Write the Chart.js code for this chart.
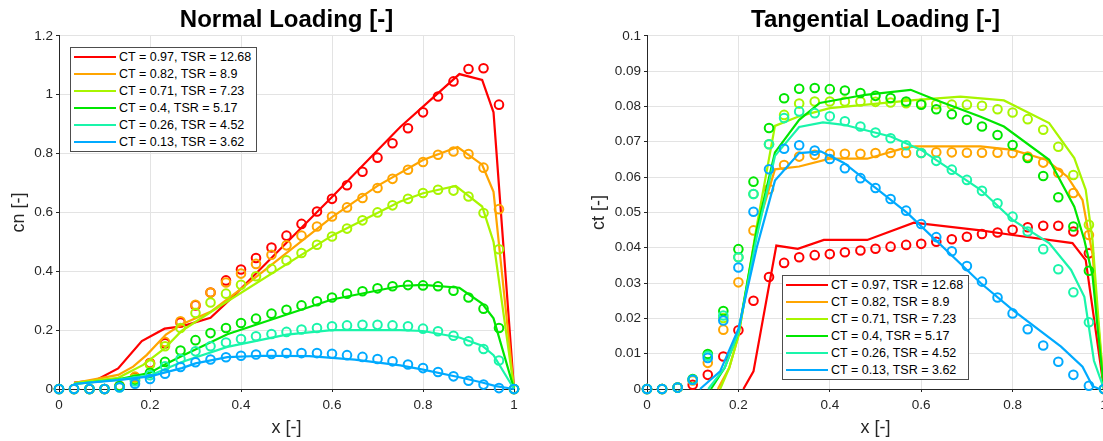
<!DOCTYPE html>
<html>
<head>
<meta charset="utf-8">
<script src="https://cdn.jsdelivr.net/npm/chart.js@4.4.1/dist/chart.umd.min.js"></script>
<style>
  html, body { margin: 0; padding: 0; background: #fff; overflow: hidden; }
  body { width: 1103px; height: 441px; position: relative; }
  .wrap { position: absolute; top: 0; height: 441px; }
  .legend {
    position: absolute; background: #fff; border: 1px solid #4d4d4d;
    box-sizing: border-box; width: 187px; height: 105px; padding: 1px 0 0 3px;
    font-family: "Liberation Sans", Arial, sans-serif; font-size: 12.5px; color: #000;
  }
  .legend div { height: 17px; line-height: 17px; white-space: nowrap; }
  .legend span.ln { display: inline-block; width: 42px; height: 2px; vertical-align: middle; margin-right: 3px; position: relative; top: -1px; }
</style>
</head>
<body>
<div class="wrap" style="left:0;width:551px"><canvas id="bieuDoNormal"></canvas></div>
<div class="wrap" style="left:560px;width:600px"><canvas id="bieuDoTangential"></canvas></div>
<div class="legend" id="legendNormal" style="left:70px;top:47px"></div>
<div class="legend" id="legendTangential" style="left:782px;top:275px"></div>
<script>
// ten cac truong hop (CT, TSR)
const seriesLabels = [
    "CT = 0.97, TSR = 12.68",
    "CT = 0.82, TSR = 8.9",
    "CT = 0.71, TSR = 7.23",
    "CT = 0.4, TSR = 5.17",
    "CT = 0.26, TSR = 4.52",
    "CT = 0.13, TSR = 3.62",
];
const seriesColors = ["#ff0000", "#ffa500", "#a8f500", "#00e600", "#19f5aa", "#00aaff"];

// vi tri x cua cac diem do (vong tron)
const xDo = [0, 0.033, 0.067, 0.1, 0.133, 0.167, 0.2, 0.233, 0.267, 0.3, 0.333, 0.367, 0.4, 0.433, 0.467,
    0.5, 0.533, 0.567, 0.6, 0.633, 0.667, 0.7, 0.733, 0.767, 0.8, 0.833, 0.867, 0.9, 0.933, 0.967, 1];

// cn - diem do
const cnDo097 = [0, 0, 0, 0, 0.008, 0.04, 0.088, 0.155, 0.226, 0.284, 0.328, 0.369, 0.406, 0.445, 0.481, 0.521, 0.561, 0.603, 0.646, 0.692, 0.738, 0.786, 0.835, 0.886, 0.94, 0.994, 1.045, 1.087, 1.09, 0.966, 0];
const cnDo082 = [0, 0, 0, 0, 0.011, 0.042, 0.087, 0.16, 0.23, 0.286, 0.328, 0.362, 0.392, 0.425, 0.456, 0.488, 0.521, 0.552, 0.586, 0.617, 0.649, 0.683, 0.714, 0.745, 0.771, 0.796, 0.807, 0.798, 0.752, 0.611, 0];
const cnDo071 = [0, 0, 0, 0, 0.008, 0.035, 0.083, 0.145, 0.207, 0.258, 0.294, 0.324, 0.354, 0.383, 0.408, 0.437, 0.462, 0.49, 0.518, 0.545, 0.573, 0.6, 0.624, 0.646, 0.666, 0.677, 0.674, 0.654, 0.598, 0.475, 0];
const cnDo040 = [0, 0, 0, 0, 0.01, 0.03, 0.055, 0.092, 0.131, 0.166, 0.19, 0.207, 0.224, 0.239, 0.256, 0.269, 0.284, 0.298, 0.311, 0.324, 0.332, 0.342, 0.349, 0.353, 0.352, 0.349, 0.334, 0.311, 0.273, 0.207, 0];
const cnDo026 = [0, 0, 0, 0, 0.005, 0.026, 0.047, 0.077, 0.102, 0.128, 0.145, 0.158, 0.17, 0.179, 0.187, 0.194, 0.202, 0.207, 0.213, 0.216, 0.218, 0.218, 0.216, 0.213, 0.205, 0.196, 0.181, 0.162, 0.136, 0.097, 0];
const cnDo013 = [0, 0, 0, 0, 0.006, 0.018, 0.034, 0.052, 0.075, 0.091, 0.1, 0.108, 0.113, 0.117, 0.119, 0.122, 0.122, 0.122, 0.12, 0.115, 0.109, 0.102, 0.094, 0.083, 0.071, 0.058, 0.043, 0.028, 0.015, 0.003, 0];

// cn - mo phong (duong) [x, y]
const cnMoPhong097 = [[0.033, 0.022], [0.08, 0.029], [0.13, 0.07], [0.182, 0.163], [0.232, 0.205], [0.27, 0.213], [0.333, 0.242], [0.38, 0.31], [0.6, 0.652], [0.75, 0.89], [0.88, 1.07], [0.93, 1.05], [0.955, 0.94], [1, 0]];
const cnMoPhong082 = [[0.033, 0.02], [0.13, 0.048], [0.163, 0.076], [0.193, 0.116], [0.235, 0.185], [0.27, 0.22], [0.333, 0.262], [0.4, 0.34], [0.6, 0.584], [0.7, 0.69], [0.8, 0.778], [0.876, 0.822], [0.93, 0.762], [0.955, 0.67], [1, 0]];
const cnMoPhong071 = [[0.033, 0.02], [0.13, 0.038], [0.185, 0.082], [0.232, 0.138], [0.27, 0.198], [0.354, 0.282], [0.6, 0.521], [0.75, 0.637], [0.8, 0.665], [0.872, 0.69], [0.93, 0.62], [0.955, 0.5], [1, 0]];
const cnMoPhong040 = [[0.033, 0.017], [0.13, 0.033], [0.2, 0.055], [0.237, 0.087], [0.27, 0.112], [0.37, 0.186], [0.6, 0.304], [0.75, 0.35], [0.8, 0.354], [0.88, 0.344], [0.93, 0.29], [0.955, 0.24], [1, 0]];
const cnMoPhong026 = [[0.033, 0.017], [0.13, 0.032], [0.2, 0.046], [0.27, 0.092], [0.37, 0.143], [0.5, 0.185], [0.6, 0.2], [0.75, 0.2], [0.8, 0.197], [0.88, 0.175], [0.93, 0.147], [0.955, 0.115], [1, 0]];
const cnMoPhong013 = [[0.033, 0.017], [0.13, 0.03], [0.2, 0.043], [0.27, 0.071], [0.3, 0.087], [0.37, 0.108], [0.45, 0.113], [0.55, 0.112], [0.65, 0.1], [0.75, 0.08], [0.8, 0.066], [0.88, 0.04], [0.93, 0.022], [0.96, 0.01], [1, 0]];

// ct - diem do
const ctDo097 = [0, 0, 0.0004, 0.0012, 0.004, 0.0092, 0.0166, 0.025, 0.0317, 0.0357, 0.0373, 0.0379, 0.0382, 0.0387, 0.0392, 0.0397, 0.0403, 0.0408, 0.0411, 0.0417, 0.0424, 0.0431, 0.0439, 0.0443, 0.0451, 0.0458, 0.0462, 0.0462, 0.0446, 0.0384, 0];
const ctDo082 = [0, 0, 0.0004, 0.0024, 0.0074, 0.0168, 0.0302, 0.0449, 0.0566, 0.0634, 0.0658, 0.0663, 0.0666, 0.0666, 0.0666, 0.0668, 0.0668, 0.0668, 0.0668, 0.067, 0.067, 0.0669, 0.0669, 0.0669, 0.0668, 0.0658, 0.0641, 0.0612, 0.0555, 0.0436, 0];
const ctDo071 = [0, 0, 0.0004, 0.0026, 0.0097, 0.0201, 0.0373, 0.0552, 0.0693, 0.0776, 0.0808, 0.0814, 0.0814, 0.0814, 0.0814, 0.0813, 0.0811, 0.0809, 0.0808, 0.0806, 0.0805, 0.0805, 0.0802, 0.0792, 0.0783, 0.0764, 0.0734, 0.0686, 0.0606, 0.0465, 0];
const ctDo040 = [0, 0, 0.0004, 0.0028, 0.0099, 0.0221, 0.0396, 0.0587, 0.0739, 0.0823, 0.085, 0.0852, 0.0849, 0.0845, 0.0838, 0.083, 0.0824, 0.0814, 0.0805, 0.0792, 0.0778, 0.0762, 0.0743, 0.0719, 0.0691, 0.0654, 0.0603, 0.0543, 0.046, 0.0335, 0];
const ctDo026 = [0, 0, 0.0004, 0.0026, 0.0094, 0.0208, 0.0373, 0.0552, 0.0693, 0.0767, 0.0786, 0.0781, 0.0772, 0.0758, 0.0743, 0.0726, 0.071, 0.069, 0.0668, 0.0646, 0.0621, 0.0592, 0.0561, 0.0526, 0.0488, 0.0446, 0.0396, 0.0339, 0.0274, 0.0189, 0];
const ctDo013 = [0, 0, 0.0004, 0.0026, 0.0088, 0.0194, 0.0344, 0.0502, 0.0622, 0.068, 0.069, 0.0675, 0.0651, 0.0625, 0.0597, 0.0569, 0.0538, 0.0505, 0.0467, 0.043, 0.039, 0.0348, 0.0304, 0.0259, 0.0214, 0.0169, 0.0123, 0.0077, 0.004, 0.0009, 0];

// ct - mo phong (duong) [x, y]
const ctMoPhong097 = [[0.211, 0], [0.233, 0.005], [0.283, 0.0406], [0.33, 0.0397], [0.387, 0.0422], [0.482, 0.0422], [0.584, 0.0471], [0.73, 0.0449], [0.8, 0.0436], [0.931, 0.0413], [0.96, 0.0365], [1, 0]];
const ctMoPhong082 = [[0.155, 0], [0.18, 0.006], [0.2, 0.015], [0.24, 0.045], [0.28, 0.0622], [0.333, 0.063], [0.4, 0.0652], [0.482, 0.0652], [0.562, 0.0682], [0.587, 0.0687], [0.73, 0.0687], [0.8, 0.0677], [0.873, 0.0649], [0.92, 0.0601], [0.953, 0.0535], [0.975, 0.038], [0.987, 0.019], [1, 0]];
const ctMoPhong071 = [[0.16, 0], [0.18, 0.006], [0.2, 0.015], [0.24, 0.046], [0.28, 0.0745], [0.333, 0.0772], [0.4, 0.0795], [0.584, 0.0818], [0.686, 0.0828], [0.781, 0.0817], [0.88, 0.0753], [0.935, 0.0654], [0.96, 0.0564], [0.975, 0.042], [0.987, 0.021], [1, 0]];
const ctMoPhong040 = [[0.14, 0], [0.17, 0.006], [0.2, 0.016], [0.24, 0.045], [0.28, 0.067], [0.333, 0.0762], [0.378, 0.081], [0.478, 0.0833], [0.577, 0.0847], [0.631, 0.0819], [0.73, 0.0771], [0.781, 0.0743], [0.88, 0.0649], [0.935, 0.0516], [0.957, 0.0422], [0.975, 0.032], [0.987, 0.016], [1, 0]];
const ctMoPhong026 = [[0.134, 0], [0.17, 0.006], [0.2, 0.016], [0.24, 0.043], [0.28, 0.066], [0.333, 0.0742], [0.385, 0.0755], [0.431, 0.0748], [0.533, 0.0715], [0.6, 0.0677], [0.73, 0.0564], [0.8, 0.0479], [0.88, 0.0413], [0.928, 0.0337], [0.957, 0.0261], [0.978, 0.008], [1, 0]];
const ctMoPhong013 = [[0.116, 0], [0.16, 0.005], [0.2, 0.017], [0.24, 0.04], [0.28, 0.059], [0.333, 0.0668], [0.38, 0.0673], [0.431, 0.064], [0.57, 0.0498], [0.73, 0.03], [0.8, 0.0224], [0.906, 0.012], [0.953, 0.0063], [0.975, 0.0008], [0.99, 0]];

const cnDo = [cnDo097, cnDo082, cnDo071, cnDo040, cnDo026, cnDo013];
const cnMoPhong = [cnMoPhong097, cnMoPhong082, cnMoPhong071, cnMoPhong040, cnMoPhong026, cnMoPhong013];
const ctDo = [ctDo097, ctDo082, ctDo071, ctDo040, ctDo026, ctDo013];
const ctMoPhong = [ctMoPhong097, ctMoPhong082, ctMoPhong071, ctMoPhong040, ctMoPhong026, ctMoPhong013];

const FONT = "'Liberation Sans', Arial, Helvetica, sans-serif";
const MAU_CHU = "#262626";

function taoDatasets(doArr, moPhongArr) {
    let ds = [];
    seriesLabels.forEach((label, i) => {
        const n = seriesLabels.length;
        // duong mo phong
        ds.push({
            label: label,
            data: moPhongArr[i].map(([x, y]) => ({ x: x, y: y })),
            showLine: true,
            borderColor: seriesColors[i],
            borderWidth: 2.2,
            pointRadius: 0,
            tension: 0,
            clip: false,
            order: (n - i) * 2 + 1,
        });
        // diem do
        ds.push({
            label: label + " (do)",
            data: xDo.map((x, k) => ({ x: x, y: doArr[i][k] })),
            showLine: false,
            pointStyle: "circle",
            pointRadius: 4.3,
            pointBorderWidth: 2,
            pointBorderColor: seriesColors[i],
            pointBackgroundColor: "rgba(0,0,0,0)",
            clip: false,
            order: (n - i) * 2,
        });
    });
    return ds;
}

function veBieuDo(id, tieuDe, nhanY, yMax, yStep, trucYRong, dungPhai, doArr, moPhongArr, yTitlePad) {
    new Chart(document.getElementById(id), {
        type: "scatter",
        data: { datasets: taoDatasets(doArr, moPhongArr) },
        options: {
            responsive: true,
            maintainAspectRatio: false,
            animation: false,
            events: [],
            layout: { padding: { right: dungPhai, top: 0, bottom: 0, left: 0 } },
            plugins: {
                legend: { display: false },
                tooltip: { enabled: false },
                title: {
                    display: true,
                    text: tieuDe,
                    fullSize: false,
                    color: "#000",
                    font: { family: FONT, size: 24, weight: "bold", lineHeight: 1.2 },
                    padding: { top: 6, bottom: 1 },
                },
            },
            scales: {
                x: {
                    type: "linear",
                    min: 0,
                    max: 1,
                    afterFit: (s) => { s.height = 52; },
                    ticks: {
                        stepSize: 0.2,
                        color: MAU_CHU,
                        padding: 5,
                        font: { family: FONT, size: 13.5 },
                        callback: (v) => String(+v.toFixed(2)),
                    },
                    grid: { color: "#e3e3e3", tickColor: MAU_CHU, tickLength: 3 },
                    border: { display: true, color: MAU_CHU, width: 1 },
                    title: {
                        display: true,
                        text: "x [-]",
                        color: MAU_CHU,
                        font: { family: FONT, size: 18 },
                        padding: { top: 0, bottom: 2 },
                    },
                },
                y: {
                    type: "linear",
                    min: 0,
                    max: yMax,
                    afterFit: (s) => { s.width = trucYRong; },
                    ticks: {
                        stepSize: yStep,
                        color: MAU_CHU,
                        padding: 3,
                        font: { family: FONT, size: 13.5 },
                        callback: (v) => String(+v.toFixed(2)),
                    },
                    grid: { color: "#e3e3e3", tickColor: MAU_CHU, tickLength: 3 },
                    border: { display: true, color: MAU_CHU, width: 1 },
                    title: {
                        display: true,
                        text: nhanY,
                        color: MAU_CHU,
                        font: { family: FONT, size: 18 },
                        padding: { top: yTitlePad, bottom: 0 },
                    },
                },
            },
        },
    });
}

function veChuThich(id) {
    const box = document.getElementById(id);
    seriesLabels.forEach((label, i) => {
        const row = document.createElement("div");
        const ln = document.createElement("span");
        ln.className = "ln";
        ln.style.background = seriesColors[i];
        row.appendChild(ln);
        row.appendChild(document.createTextNode(label));
        box.appendChild(row);
    });
}

veBieuDo("bieuDoNormal", "Normal Loading [-]", "cn [-]", 1.2, 0.2, 59, 37, cnDo, cnMoPhong, 8);
veBieuDo("bieuDoTangential", "Tangential Loading [-]", "ct [-]", 0.1, 0.01, 87, 56, ctDo, ctMoPhong, 28);
veChuThich("legendNormal");
veChuThich("legendTangential");
</script>
</body>
</html>
